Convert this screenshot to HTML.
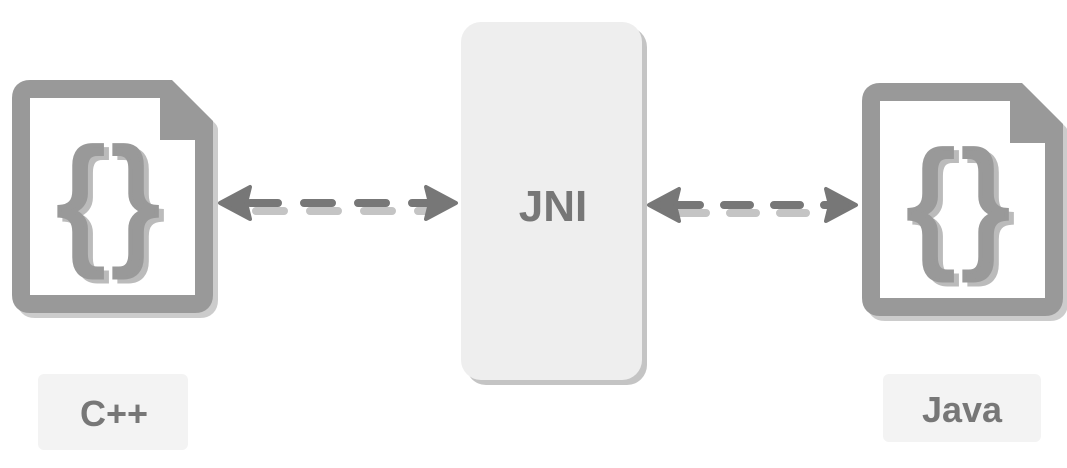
<!DOCTYPE html>
<html><head><style>html,body{margin:0;padding:0;background:#fff;width:1067px;height:468px;overflow:hidden}</style></head>
<body>
<svg width="1067" height="468" viewBox="0 0 1067 468" xmlns="http://www.w3.org/2000/svg" font-family="Liberation Sans, sans-serif">
<defs>
<g id="file">
  <path d="M30,89 H168 L204,125 V295 Q204,304 195,304 H30 Q21,304 21,295 V98 Q21,89 30,89 Z" fill="#fff" stroke="#999" stroke-width="18" stroke-linejoin="round"/>
  <polygon points="160,80 172,80 213,121 213,140 160,140" fill="#999"/>
  <text x="62" y="252" font-size="142" fill="#bbb" stroke="#bbb" stroke-width="4">{</text>
  <text x="117" y="252" font-size="142" fill="#bbb" stroke="#bbb" stroke-width="4">}</text>
  <text x="57" y="248" font-size="142" fill="#999" stroke="#999" stroke-width="4">{</text>
  <text x="112" y="248" font-size="142" fill="#999" stroke="#999" stroke-width="4">}</text>
</g>
</defs>
<g transform="translate(5,5)" opacity="0.6"><path d="M30,89 H168 L204,125 V295 Q204,304 195,304 H30 Q21,304 21,295 V98 Q21,89 30,89 Z" fill="none" stroke="#aaa" stroke-width="18" stroke-linejoin="round"/></g>
<use href="#file"/>
<g transform="translate(850,3)">
<g transform="translate(5,5)" opacity="0.6"><path d="M30,89 H168 L204,125 V295 Q204,304 195,304 H30 Q21,304 21,295 V98 Q21,89 30,89 Z" fill="none" stroke="#aaa" stroke-width="18" stroke-linejoin="round"/></g>
<use href="#file"/>
</g>
<rect x="466" y="27" width="181" height="358" rx="20" fill="#c4c4c4"/>
<rect x="461" y="22" width="181" height="358" rx="20" fill="#eeeeee"/>
<text x="553" y="221" font-size="44" font-weight="bold" fill="#777" text-anchor="middle">JNI</text>
<g stroke-linecap="round" stroke-width="8">
<line x1="256" y1="211" x2="430" y2="211" stroke="#c4c4c4" stroke-dasharray="28,26"/>
<line x1="250" y1="203" x2="430" y2="203" stroke="#777" stroke-dasharray="28,26"/>
<line x1="680" y1="213" x2="836" y2="213" stroke="#c4c4c4" stroke-dasharray="26,24"/>
<line x1="674" y1="205" x2="830" y2="205" stroke="#777" stroke-dasharray="26,24"/>
</g>
<polygon points="220,203 250,187 246,203 250,219" fill="#777" stroke="#777" stroke-width="4" stroke-linejoin="round"/>
<polygon points="456,203 426,187 430,203 426,219" fill="#777" stroke="#777" stroke-width="4" stroke-linejoin="round"/>
<polygon points="649,205 679,189 675,205 679,221" fill="#777" stroke="#777" stroke-width="4" stroke-linejoin="round"/>
<polygon points="856,205 826,189 830,205 826,221" fill="#777" stroke="#777" stroke-width="4" stroke-linejoin="round"/>
<rect x="38" y="374" width="150" height="76" rx="6" fill="#f3f3f3"/>
<text x="114" y="426" font-size="36" font-weight="bold" fill="#777" text-anchor="middle">C++</text>
<rect x="883" y="374" width="158" height="68" rx="6" fill="#f3f3f3"/>
<text x="962" y="422" font-size="36" font-weight="bold" fill="#777" text-anchor="middle">Java</text>
</svg>
</body></html>
